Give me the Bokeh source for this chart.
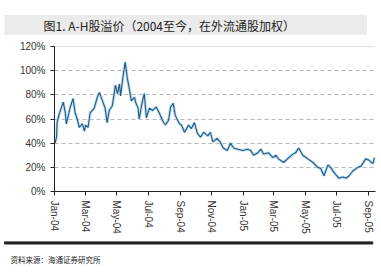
import pandas as pd
from bokeh.plotting import figure
from bokeh.models import (Range1d, FixedTicker, MonthsTicker, DatetimeTickFormatter,
                          Span, CustomJSTickFormatter, Title)
from bokeh.embed import file_html
from bokeh.resources import INLINE

title_text = "图1. A-H股溢价（2004至今，在外流通股加权）"
source_text = "资料来源：海通证券研究所"

dates = [
    "2004-01-02", "2004-01-05", "2004-01-06", "2004-01-10", "2004-01-14", "2004-01-18",
    "2004-01-22", "2004-01-24", "2004-01-29", "2004-01-31", "2004-02-06", "2004-02-10",
    "2004-02-14", "2004-02-18", "2004-02-24", "2004-02-28", "2004-03-01", "2004-03-06",
    "2004-03-10", "2004-03-18", "2004-03-24", "2004-03-28", "2004-04-03", "2004-04-08",
    "2004-04-12", "2004-04-16", "2004-04-22", "2004-04-26", "2004-04-28", "2004-05-02",
    "2004-05-06", "2004-05-08", "2004-05-13", "2004-05-17", "2004-05-21", "2004-05-25",
    "2004-05-29", "2004-06-04", "2004-06-06", "2004-06-11", "2004-06-13", "2004-06-19",
    "2004-06-23", "2004-06-27", "2004-07-03", "2004-07-09", "2004-07-16", "2004-07-22",
    "2004-07-28", "2004-08-03", "2004-08-09", "2004-08-13", "2004-08-18", "2004-08-22",
    "2004-08-30", "2004-09-03", "2004-09-09", "2004-09-17", "2004-09-22", "2004-09-28",
    "2004-10-04", "2004-10-10", "2004-10-16", "2004-10-24", "2004-10-29", "2004-11-03",
    "2004-11-11", "2004-11-17", "2004-11-23", "2004-12-01", "2004-12-07", "2004-12-13",
    "2004-12-21", "2004-12-31", "2005-01-09", "2005-01-15", "2005-01-21", "2005-01-29",
    "2005-02-04", "2005-02-09", "2005-02-19", "2005-02-27", "2005-03-05", "2005-03-10",
    "2005-03-20", "2005-03-30", "2005-04-07", "2005-04-12", "2005-04-18", "2005-04-26",
    "2005-05-06", "2005-05-16", "2005-05-25", "2005-05-31", "2005-06-06", "2005-06-14",
    "2005-06-19", "2005-06-25", "2005-07-05", "2005-07-13", "2005-07-19", "2005-07-25",
    "2005-08-01", "2005-08-11", "2005-08-17", "2005-08-26", "2005-09-01", "2005-09-09",
    "2005-09-12",
]
premium = [
    40, 45, 57, 64, 69, 74,
    65, 56, 65, 69, 77, 65,
    60, 53, 56, 50, 55, 53,
    65, 69, 78, 82, 75, 69,
    57, 67, 71, 82, 88, 81,
    89, 79, 96, 107, 94, 85,
    75, 78, 74, 69, 60, 74,
    81, 61, 69, 67, 70, 65,
    59, 55, 59, 70, 73, 63,
    56, 55, 49, 55, 52, 57,
    48, 45, 49, 46, 49, 41,
    44, 41, 36, 34, 40, 36,
    35, 34, 35, 34, 30, 32,
    35, 31, 32, 28, 30, 27,
    24, 28, 31, 32, 36, 30,
    27, 24, 20, 19, 13, 22,
    20, 16, 11, 12, 11, 13,
    17, 20, 21, 27, 26, 23,
    28,
]
y_ticks = [0, 20, 40, 60, 80, 100, 120]

x = pd.to_datetime(dates)
p = figure(width=381, height=272, output_backend="svg", toolbar_location=None,
           x_axis_type="datetime",
           x_range=Range1d(pd.Timestamp("2004-01-01"), pd.Timestamp("2005-09-14")),
           y_range=Range1d(0, 120),
           min_border_left=54, min_border_right=6, min_border_top=46, min_border_bottom=81)
p.background_fill_color = "white"
p.border_fill_color = "white"
p.outline_line_color = None

p.add_layout(Title(text=title_text, align="left", offset=-50, standoff=19,
                   vertical_align="top",
                   text_font="Noto Sans CJK SC", text_font_size="12px",
                   text_font_style="normal", text_color="#222222",
                   background_fill_color="#ebebeb",
                   padding=dict(left=39, right=72, top=2, bottom=1)), "above")
p.add_layout(Title(text=" ", align="left", offset=-50, standoff=7,
                   text_font_size="1px", text_color="#222222",
                   background_fill_color="#222222",
                   border_line_color="#222222", border_line_width=1,
                   padding=dict(left=184, right=184, top=1, bottom=0)), "below")
p.add_layout(Title(text=source_text, align="left", offset=-44, standoff=9,
                   text_font="Noto Sans CJK SC", text_font_size="7.5px",
                   text_font_style="normal", text_color="#222222"), "below")

p.xgrid.grid_line_color = None
p.ygrid.ticker = FixedTicker(ticks=y_ticks)
p.ygrid.grid_line_color = "#b8b8b8"
p.ygrid.grid_line_dash = "4 3"
p.ygrid.grid_line_width = 1
p.add_layout(Span(location=120, dimension="width", line_color="#c4c4dc", line_width=1))

p.line(x, premium, line_color="#a9cfe8", line_width=3, line_alpha=0.7)
p.line(x, premium, line_color="#1d5a85", line_width=1.1)

p.yaxis.ticker = FixedTicker(ticks=y_ticks)
p.yaxis.formatter = CustomJSTickFormatter(code="return tick + '%';")
p.yaxis.axis_line_color = "#222222"
p.yaxis.major_tick_line_color = "#222222"
p.yaxis.major_tick_out = 4
p.yaxis.major_tick_in = 0
p.yaxis.minor_tick_line_color = None
p.yaxis.major_label_text_font = "Liberation Sans"
p.yaxis.major_label_text_font_size = "10px"
p.yaxis.major_label_text_color = "#333333"
p.yaxis.major_label_standoff = 5

p.xaxis.ticker = MonthsTicker(months=[0, 2, 4, 6, 8, 10])
fmt = "%b-%y"
p.xaxis.formatter = DatetimeTickFormatter(months=fmt, days=fmt, years=fmt, hours=fmt,
                                          minutes=fmt, seconds=fmt, milliseconds=fmt,
                                          microseconds=fmt, minsec=fmt, hourmin=fmt)
p.xaxis.major_label_orientation = "vertical"
p.xaxis.axis_line_color = "#222222"
p.xaxis.major_tick_line_color = "#222222"
p.xaxis.major_tick_out = 4
p.xaxis.major_tick_in = 0
p.xaxis.minor_tick_line_color = None
p.xaxis.major_label_text_font = "Liberation Sans"
p.xaxis.major_label_text_font_size = "10px"
p.xaxis.major_label_text_color = "#333333"
p.xaxis.major_label_standoff = 5

open("out.html", "w").write(file_html(p, INLINE))
